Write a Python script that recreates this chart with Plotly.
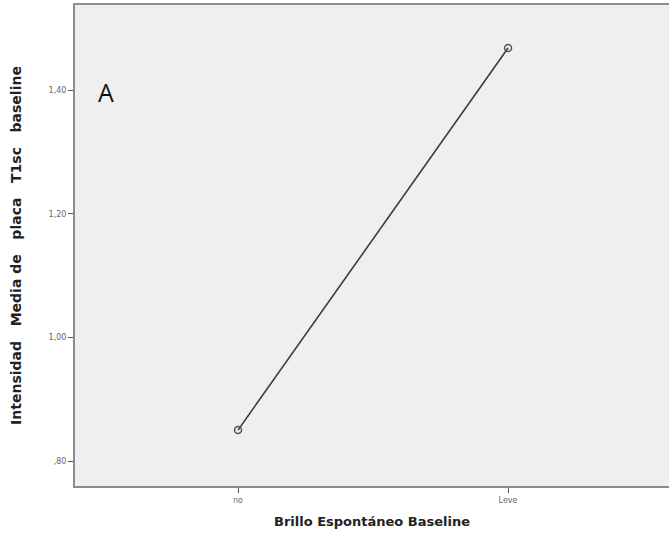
import plotly.graph_objects as go

categories = ["no", "Leve"]
means = [0.85, 1.468]
y_ticks = [0.80, 1.00, 1.20, 1.40]
y_tick_labels = [",80", "1,00", "1,20", "1,40"]

fig = go.Figure()
fig.add_trace(go.Scatter(
    x=categories, y=means, mode="lines+markers",
    line=dict(color="#3c3c3c", width=1.6),
    marker=dict(symbol="circle-open", size=7, color="#555555", line=dict(width=1.5)),
    showlegend=False,
))

fig.add_annotation(
    text="A", xref="paper", yref="paper", x=0.035, y=0.82,
    xanchor="left", yanchor="middle", showarrow=False,
    font=dict(family="Open Sans", size=25, color="#111111"),
)

fig.update_layout(
    width=669, height=537,
    margin=dict(l=75, r=0, t=5, b=51),
    paper_bgcolor="white", plot_bgcolor="#efefef",
    font=dict(family="DejaVu Sans"),
)
fig.update_xaxes(
    type="category", range=[-0.6037, 1.596],
    showgrid=False, zeroline=False,
    showline=True, linecolor="#8c8c8c", linewidth=2, mirror=True,
    ticks="outside", ticklen=5, tickcolor="#555555", tickwidth=1,
    tickfont=dict(size=8, color="#666666"),
    title=dict(text="<b>Brillo Espontáneo Baseline</b>", standoff=13,
               font=dict(size=13, color="#222222")),
)
fig.update_yaxes(
    range=[0.7596, 1.5375],
    tickvals=y_ticks, ticktext=y_tick_labels,
    showgrid=False, zeroline=False,
    showline=True, linecolor="#8c8c8c", linewidth=2,
    ticks="outside", ticklen=5, tickcolor="#555555", tickwidth=1,
    tickfont=dict(size=8, color="#666666"),
    title=dict(text="<b>Intensidad   Media de   placa   T1sc   baseline</b>", standoff=24,
               font=dict(size=14, color="#222222")),
)

fig.write_html("out.html")
